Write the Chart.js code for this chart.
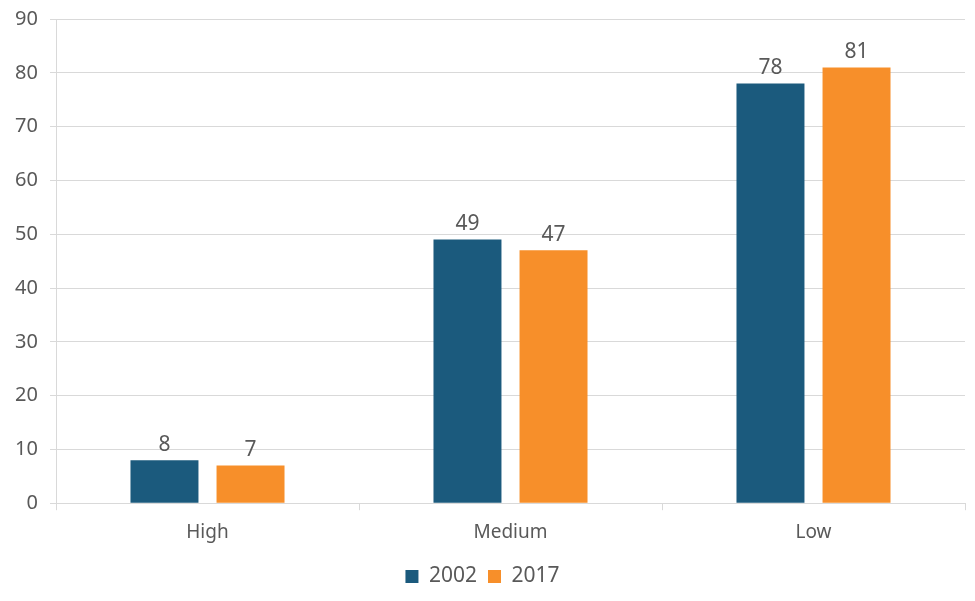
<!DOCTYPE html>
<html>
<head>
<meta charset="utf-8">
<script src="https://cdn.jsdelivr.net/npm/chart.js@4.4.1/dist/chart.umd.min.js"></script>
<style>
  html, body { margin: 0; padding: 0; background: #fff; }
  #wrap { width: 975px; height: 601px; }
</style>
</head>
<body>
<div id="wrap"><canvas id="chart" width="975" height="601"></canvas></div>
<script>
const categories = ['High', 'Medium', 'Low'];
const values2002 = [8, 49, 78];
const values2017 = [7, 47, 81];
const yTicks = [0, 10, 20, 30, 40, 50, 60, 70, 80, 90];

const FONT = "'Noto Sans', 'DejaVu Sans', sans-serif";
const TEXT = '#595959';
const GRID = '#d9d9d9';

// draws the value above each bar
const barLabels = {
    id: 'barLabels',
    afterDatasetsDraw(chart) {
        const ctx = chart.ctx;
        ctx.save();
        ctx.font = '21px ' + FONT;
        ctx.fillStyle = TEXT;
        ctx.textAlign = 'center';
        ctx.textBaseline = 'bottom';
        chart.data.datasets.forEach((ds, i) => {
            chart.getDatasetMeta(i).data.forEach((bar, j) => {
                ctx.fillText(ds.data[j], bar.x, bar.y - 5);
            });
        });
        ctx.restore();
    }
};

new Chart(document.getElementById('chart').getContext('2d'), {
    type: 'bar',
    data: {
        labels: categories,
        datasets: [
            { label: '2002', data: values2002, backgroundColor: '#1b5a7d' },
            { label: '2017', data: values2017, backgroundColor: '#f78f2a' }
        ]
    },
    options: {
        responsive: false,
        animation: false,
        layout: { padding: { top: 19, right: 10, left: 0, bottom: 4 } },
        datasets: { bar: { categoryPercentage: 0.568, barPercentage: 0.79 } },
        scales: {
            x: {
                grid: { drawOnChartArea: false, offset: true, tickLength: 7, color: GRID },
                border: { display: false },
                ticks: { color: TEXT, font: { family: FONT, size: 19 }, padding: 11 }
            },
            y: {
                min: 0, max: 90,
                afterBuildTicks: s => { s.ticks = yTicks.map(v => ({ value: v })); },
                afterFit: s => { s.width = 56; s.paddingTop = 0; s.paddingBottom = 0; },
                grid: { color: GRID, tickLength: 6 },
                border: { color: GRID },
                ticks: { color: TEXT, font: { family: FONT, size: 20 }, padding: 12 }
            }
        },
        plugins: {
            legend: {
                position: 'bottom',
                labels: {
                    color: TEXT, font: { family: FONT, size: 21 },
                    boxWidth: 13, boxHeight: 13, padding: 11
                }
            },
            tooltip: { enabled: false }
        }
    },
    plugins: [barLabels]
});
</script>
</body>
</html>
